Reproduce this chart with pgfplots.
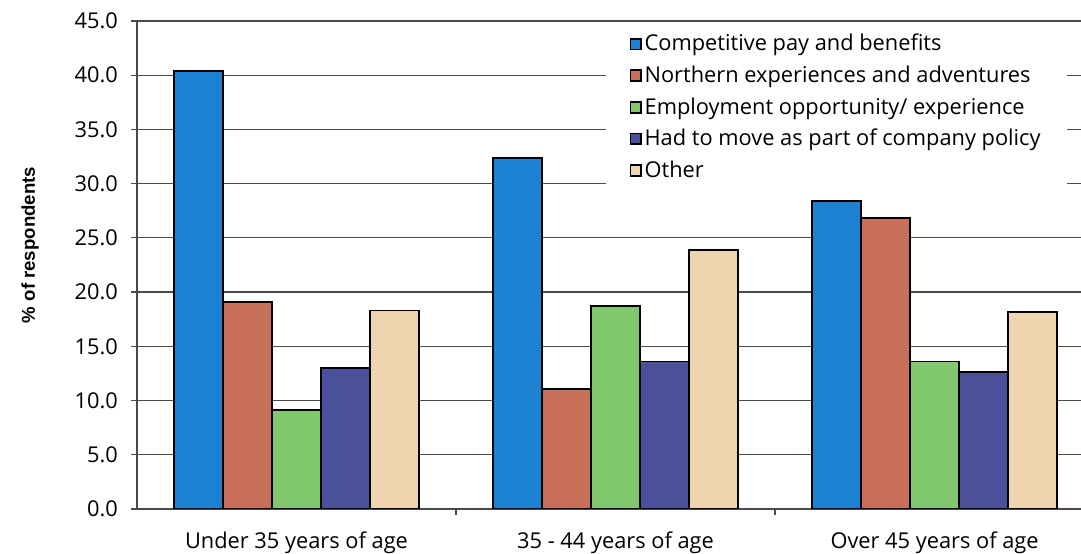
\documentclass[border=0pt]{standalone}
\usepackage{pgfplots}
\pgfplotsset{compat=1.18}
\usepackage{fontspec}
\setmainfont{Open Sans}
\newfontfamily\labelfont{Liberation Sans}

\definecolor{cblue}{HTML}{1E82D2}
\definecolor{cred}{HTML}{C9705A}
\definecolor{cgreen}{HTML}{82C86F}
\definecolor{cpurple}{HTML}{4A5099}
\definecolor{ctan}{HTML}{EFD5AF}
\definecolor{gridc}{HTML}{4A4A4A}

\begin{document}
\begin{tikzpicture}
\begin{axis}[
    name=main,
    scale only axis,
    width=472pt, height=244pt,
    ybar=0pt,
    bar width=24.5pt,
    xmin=-0.5, xmax=2.459,
    ymin=0, ymax=45,
    xtick={0,1,2},
    xticklabels={Under 35 years of age, 35 - 44 years of age, Over 45 years of age},
    major x tick style={draw=none},
    extra x ticks={0.5,1.5},
    extra x tick labels={},
    extra x tick style={major x tick style={draw=gridc}, grid=none},
    ytick={0,5,...,45},
    yticklabel style={xshift=-3pt, /pgf/number format/.cd, fixed, fixed zerofill, precision=1, assume math mode=true},
    tick align=outside,
    major tick length=3pt,
    axis x line*=bottom,
    axis y line*=left,
    axis line style={gridc, line width=0.7pt},
    ymajorgrids=true,
    grid style={gridc, line width=0.6pt},
    tick style={gridc, line width=0.6pt},
    tick label style={font=\fontsize{10.9}{12}\selectfont},
    xticklabel style={yshift=-5pt},
    ylabel={\labelfont\bfseries\fontsize{9.3}{11}\selectfont \% of respondents},
    ylabel style={at={(axis description cs:-0.1133,0.541)}, anchor=center},
    legend style={at={(axis description cs:0.496,0.99)}, anchor=north west,
        fill=white, draw=none, inner xsep=12pt, inner ysep=2pt,
        nodes={inner xsep=1.2pt},
        font=\fontsize{10.9}{12}\selectfont, row sep=2.0pt},
    legend cell align=left,
    legend image code/.code={\draw[#1, draw=black, line width=0.9pt] (0pt,-2.7pt) rectangle (5.4pt,2.7pt);},
    every axis plot/.append style={draw=black, line width=0.9pt},
]
\addplot[fill=cblue] coordinates {(0,40.4) (1,32.4) (2,28.4)};
\addplot[fill=cred] coordinates {(0,19.1) (1,11.1) (2,26.8)};
\addplot[fill=cgreen] coordinates {(0,9.1) (1,18.7) (2,13.6)};
\addplot[fill=cpurple] coordinates {(0,13.0) (1,13.6) (2,12.6)};
\addplot[fill=ctan] coordinates {(0,18.3) (1,23.9) (2,18.2)};
\legend{Competitive pay and benefits, Northern experiences and adventures, Employment opportunity/ experience, Had to move as part of company policy, Other}
\end{axis}
\pgfresetboundingbox
\path[use as bounding box] ([shift={(-68.5pt,-22.5pt)}]main.south west) rectangle ([shift={(0pt,10.5pt)}]main.north east);
\end{tikzpicture}
\end{document}
